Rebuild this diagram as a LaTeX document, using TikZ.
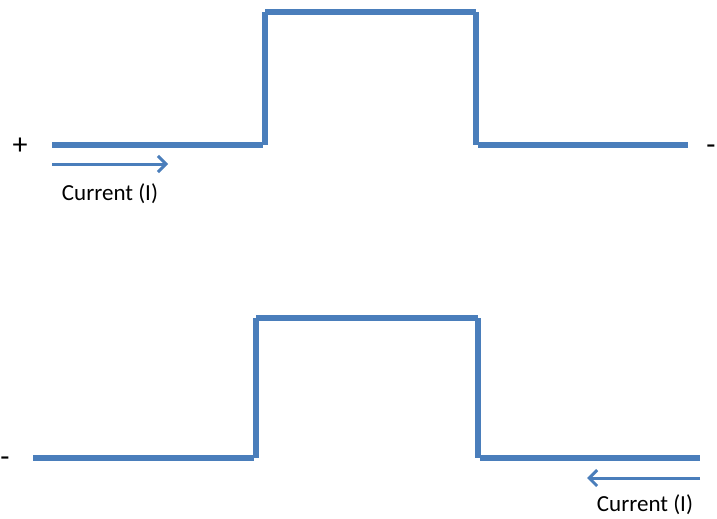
\documentclass[tikz,border=0pt]{standalone}
\usepackage{fontspec}
\setmainfont{Carlito}
\usetikzlibrary{arrows.meta}
\definecolor{wireblue}{RGB}{74,126,187}
\tikzset{
  >={Straight Barb[length=8pt,width=16pt,line width=3pt]},
}
\tikzstyle{wave}=[wireblue,line width=5.5pt]
\tikzstyle{flow}=[wireblue,line width=3pt,->]
\tikzstyle{sign}=[font=\fontsize{30}{34}\selectfont,inner sep=0pt]
\tikzstyle{every node}=[font=\fontsize{23}{27}\selectfont]

\begin{document}
\begin{tikzpicture}[x=1pt,y=-1pt]
    \useasboundingbox (0,0) rectangle (717,519);
    % upper pulse
    \coordinate (a1) at (52,145);
    \coordinate (a2) at (263,145);
    \coordinate (a3) at (265,12);
    \coordinate (a4) at (476,12);
    \coordinate (a5) at (478,145);
    \coordinate (a6) at (688,145);
    \draw[wave] (a1)--(a2);
    \draw[wave] (a3|-a2)--(a3);
    \draw[wave] (a3)--(a4);
    \draw[wave] (a4)--(a4|-a5);
    \draw[wave] (a5)--(a6);
    \node[sign] (plus) at (20,146) {+};
    \node[sign] (minus) at (711,150) {-};
    \coordinate (ia) at (52,164);
    \coordinate (ib) at (168,164);
    \draw[flow] (ia)--(ib);
    \node (cur1) at (110,194) {Current (I)};
    % lower pulse
    \coordinate (b1) at (33,458);
    \coordinate (b2) at (254,458);
    \coordinate (b3) at (256,318);
    \coordinate (b4) at (478,318);
    \coordinate (b5) at (480,458);
    \coordinate (b6) at (700,458);
    \draw[wave] (b1)--(b2);
    \draw[wave] (b3|-b2)--(b3);
    \draw[wave] (b3)--(b4);
    \draw[wave] (b4)--(b4|-b5);
    \draw[wave] (b5)--(b6);
    \node[sign] (minus2) at (5,462) {-};
    \coordinate (ja) at (700,478);
    \coordinate (jb) at (587,478);
    \draw[flow] (ja)--(jb);
    \node (cur2) at (645,505) {Current (I)};
\end{tikzpicture}
\end{document}
